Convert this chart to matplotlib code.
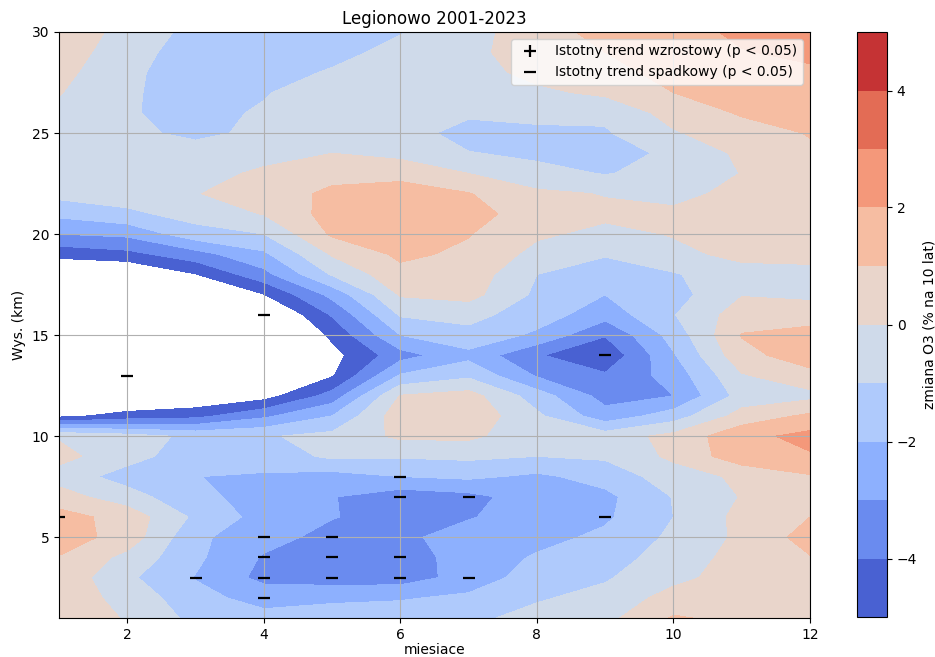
import numpy as np
import matplotlib
matplotlib.use("Agg")
import matplotlib.pyplot as plt

# Grid: months (columns) and altitudes in km (rows)
months = list(range(1, 13))
altitudes = list(range(1, 31))

# Ozone trend (% per 10 years), one list per month, altitudes 1..30 km
m01 = [0.4, 0.5, 0.7, 0.95, 1.5, 1.4, 0.4, -0.4, 0.3, -0.1, -5.3, -8, -9, -9, -9, -9, -8, -6.3, -4.67, -3.0, -1.75, -0.68, -0.5, -0.4, -0.3, -0.2, 0.05, 0.3, 0.5, 0.6]
m02 = [-0.05, -0.29, -0.8, -0.3, 0.6, 0.6, -0.55, -1.45, -0.6, -0.6, -4.6, -6.4, -7, -7.5, -7.5, -7, -6.5, -6.28, -4.31, -2.77, -1.23, -0.46, -0.45, -0.6, -0.7, -0.9, -0.8, -0.77, -0.54, -0.3]
m03 = [-1.3, -1.7, -2.05, -1.8, -1.8, -1.2, -1.8, -1.99, -1.6, -1.22, -4.3, -6.05, -7, -8, -8, -7.5, -6.5, -5.05, -3.4, -1.4, -0.6, -0.05, -0.3, -0.44, -1.3, -1.4, -1.67, -1.59, -1.56, -1.34]
m04 = [-1.7, -2.35, -3.3, -3.1, -2.6, -2.39, -2.3, -2.1, -1.6, -1.1, -3.2, -5.45, -8, -8, -7, -6.5, -5.05, -3.33, -2.2, -1.0, 0.05, 0.5, 0.15, -0.3, -0.7, -0.85, -1.1, -1.4, -1.5, -1.4]
m05 = [-1.5, -2.2, -3.5, -3.6, -3.35, -2.95, -2.95, -2.4, -0.8, -0.7, -2.0, -3.6, -5.1, -5.35, -4.8, -3.9, -2.7, -0.9, 0.1, 1.15, 1.4, 1.2, 0.7, 0.0, -0.4, -0.4, -0.27, -0.9, -1.3, -1.4]
m06 = [-1.4, -2.1, -3.5, -3.5, -3.3, -3.4, -3.6, -2.0, -0.9, 0.2, 0.6, 0.05, -1.9, -3.4, -2.0, -0.9, 0.1, 0.7, 1.2, 1.5, 1.7, 1.3, 0.8, -0.35, -0.5, -0.4, -0.3, -0.3, -0.7, -1.05]
m07 = [-1.2, -1.8, -2.6, -2.56, -2.4, -3.1, -3.3, -1.8, -0.8, 0.2, 0.7, 0.4, -1.2, -2.3, -1.3, -0.7, 0.35, 0.6, 0.8, 1.05, 1.3, 1.05, 0.0, -0.95, -1.44, -0.8, -0.6, -0.4, -0.3, -0.4]
m08 = [-0.7, -1.1, -1.5, -1.9, -2.3, -2.3, -2.49, -2.2, -1.0, -0.6, -0.8, -1.5, -3.1, -3.9, -2.2, -1.5, -1.2, -1.0, -0.3, 0.15, 0.6, 0.2, -0.7, -1.2, -1.3, -0.6, -0.2, 0.3, 0.6, 0.6]
m09 = [-0.3, -0.7, -1.1, -1.4, -1.8, -2.15, -2.25, -1.6, -0.85, -0.5, -2.6, -3.4, -3.86, -4.8, -3.93, -2.6, -2.0, -1.3, -0.95, -0.25, 0.2, -0.05, -1.05, -1.4, -1.1, -0.8, 0.2, 0.7, 1.0, 1.3]
m10 = [1.1, 0.4, -0.3, -0.6, -0.8, -1.0, -0.95, -0.5, 0.21, 0.3, -1.5, -3.0, -2.6, -2.1, -1.6, -1.05, -1.4, -1.1, -0.2, 0.05, 0.2, -0.3, -0.7, -0.8, -0.1, 0.4, 1.0, 1.3, 1.5, 1.6]
m11 = [0.75, 0.5, 0.5, 0.4, 0.2, 0.3, 0.05, 0.2, 1.6, 1.7, 0.4, -0.6, -0.1, 0.7, 1.05, 0.5, -0.05, -0.3, 0.2, 0.4, 0.5, 0.3, 0.03, 0.2, 0.6, 1.1, 1.4, 1.7, 1.95, 2.2]
m12 = [0.6, 0.6, 0.7, 0.95, 1.4, 1.0, 0.7, 0.9, 1.9, 2.3, 1.2, -0.3, 0.7, 1.5, 1.4, 0.5, -0.2, -0.15, 0.15, 0.4, 0.5, 0.6, 0.7, 0.85, 1.05, 1.4, 1.6, 1.85, 2.2, 2.8]

# Significant trends
inc_months = []
inc_alts = []
dec_months = [1, 2, 3, 4, 4, 4, 4, 4, 5, 5, 5, 6, 6, 6, 6, 7, 7, 9, 9]
dec_alts = [6, 13, 3, 2, 3, 4, 5, 16, 3, 4, 5, 3, 4, 7, 8, 3, 7, 6, 14]

levels = list(range(-5, 6))
cbar_ticks = [-4, -2, 0, 2, 4]

Z = np.column_stack([m01, m02, m03, m04, m05, m06, m07, m08, m09, m10, m11, m12])
X, Y = np.meshgrid(months, altitudes)

fig = plt.figure(figsize=(9.35, 6.57), dpi=100)
ax = fig.add_axes([59 / 935, 1 - 618 / 657, (810 - 59) / 935, (618 - 32) / 657])
cax = fig.add_axes([857 / 935, 1 - 617 / 657, 30 / 935, (617 - 32) / 657])

cf = ax.contourf(X, Y, Z, levels=levels, cmap="coolwarm")
ax.plot(inc_months, inc_alts, linestyle="none", marker="+", color="black",
        markersize=9, markeredgewidth=1.6, label="Istotny trend wzrostowy (p < 0.05)")
ax.plot(dec_months, dec_alts, linestyle="none", marker="_", color="black",
        markersize=9, markeredgewidth=1.6, label="Istotny trend spadkowy (p < 0.05)")

ax.set_xlim(1, 12)
ax.set_ylim(1, 30)
ax.set_xticks([2, 4, 6, 8, 10, 12])
ax.set_yticks([5, 10, 15, 20, 25, 30])
ax.grid(True)
ax.set_title("Legionowo 2001-2023")
ax.set_xlabel("miesiace", labelpad=1)
ax.set_ylabel("Wys. (km)")
ax.legend(loc="upper right")

cb = fig.colorbar(cf, cax=cax)
cb.set_ticks(cbar_ticks)
cb.set_label("zmiana O3 (% na 10 lat)")

fig.savefig("out.png", dpi=100)
